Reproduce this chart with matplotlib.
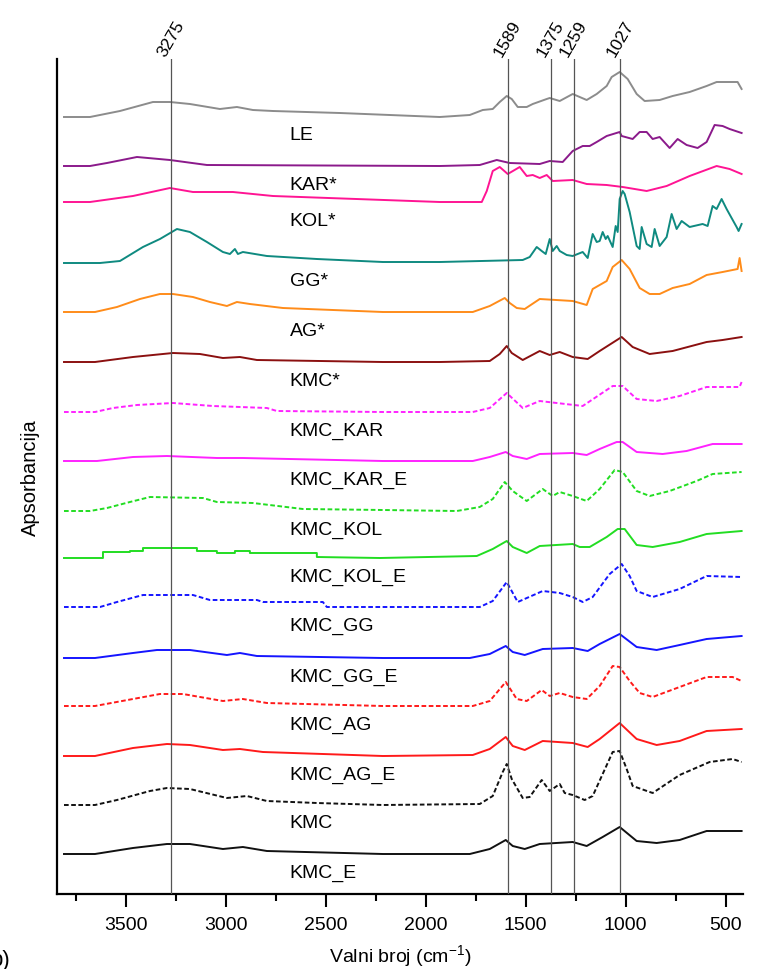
import matplotlib
matplotlib.use("Agg")
import matplotlib.pyplot as plt
from matplotlib.ticker import MultipleLocator

plt.rcParams['font.family'] = ['Liberation Sans', 'DejaVu Sans']
plt.rcParams['mathtext.fontset'] = 'custom'
plt.rcParams['mathtext.rm'] = 'Liberation Sans'

# spectra: wavenumber (cm-1) and relative absorbance (a.u.)
wn_le = [3810, 3680, 3530, 3365, 3280, 3180, 3030, 2945, 2865, 2765, 2430, 1930, 1780, 1715, 1665, 1630,
         1595, 1570, 1540, 1495, 1465, 1395, 1380, 1330, 1265, 1195, 1145, 1095, 1070, 1030, 990, 945,
         905, 830, 765, 680, 595, 545, 465, 440, 420]
a_le = [0, 0, 6, 15, 15, 13, 8, 10, 7, 6, 4, 0, 2, 7, 8, 15, 21, 18, 10, 10, 13, 18, 19, 16, 23, 17,
        23, 31, 40, 45, 38, 23, 16, 17, 21, 25, 31, 35, 35, 35, 28]

wn_kar = [3810, 3680, 3595, 3445, 3280, 3095, 1930, 1730, 1645, 1580, 1430, 1380, 1315, 1265, 1215, 1180,
          1145, 1095, 1030, 1020, 965, 930, 895, 865, 830, 780, 740, 695, 640, 595, 555, 515, 480, 420]
a_kar = [0, 0, 3, 9, 6, 1, 0, 1, 6, 3, 2, 5, 4, 15, 20, 20, 24, 30, 34, 30, 27, 34, 34, 27, 29, 18,
         27, 21, 18, 24, 41, 40, 37, 33]

wn_kol = [3810, 3680, 3465, 3280, 3165, 2965, 2765, 1930, 1720, 1695, 1665, 1630, 1590, 1530, 1495, 1465,
          1430, 1395, 1365, 1265, 1195, 1095, 1015, 895, 795, 680, 545, 480, 420]
a_kol = [0, 0, 6, 14, 10, 10, 6, 0, 0, 11, 31, 35, 28, 35, 26, 27, 24, 27, 21, 22, 18, 17, 15, 11, 16,
         26, 36, 33, 28]

wn_gg = [3810, 3630, 3530, 3415, 3330, 3245, 3180, 3095, 3015, 2980, 2955, 2940, 2915, 2795, 2545, 2215,
         1930, 1515, 1480, 1445, 1420, 1400, 1380, 1365, 1345, 1330, 1295, 1265, 1215, 1190, 1165, 1145,
         1130, 1115, 1100, 1090, 1065, 1050, 1040, 1030, 1015, 1005, 980, 945, 930, 920, 895, 870, 855,
         830, 795, 770, 745, 720, 680, 615, 590, 565, 545, 520, 495, 445, 435, 420]
a_gg = [0, 0, 2, 16, 24, 34, 31, 21, 11, 9, 14, 9, 11, 7, 4, 1, 1, 3, 6, 16, 12, 9, 24, 12, 17, 12, 8,
        7, 11, 5, 29, 21, 22, 31, 24, 27, 16, 37, 31, 64, 72, 69, 51, 17, 14, 36, 19, 16, 34, 17, 26,
        49, 34, 42, 36, 39, 37, 57, 54, 64, 54, 36, 32, 39]

wn_ag = [3810, 3655, 3545, 3430, 3330, 3265, 3165, 3080, 2995, 2945, 2880, 2715, 2215, 1930, 1765, 1680,
         1605, 1580, 1545, 1505, 1430, 1265, 1195, 1165, 1095, 1065, 1020, 980, 930, 880, 830, 765, 680,
         595, 515, 440, 430, 420]
a_ag = [0, 0, 5, 13, 18, 18, 15, 10, 6, 10, 8, 4, 0, 0, 0, 6, 14, 9, 4, 3, 13, 11, 7, 23, 31, 45, 52,
        43, 24, 18, 18, 24, 28, 37, 40, 43, 54, 41]

wn_kmcs = [3810, 3655, 3465, 3265, 3130, 3015, 2930, 2845, 2215, 1930, 1680, 1630, 1595, 1570, 1515, 1430,
           1380, 1330, 1265, 1190, 1130, 1020, 965, 880, 765, 595, 515, 420]
a_kmcs = [0, 0, 5, 9, 8, 4, 5, 2, 0, 0, 1, 8, 16, 9, 2, 11, 7, 10, 5, 3, 11, 25, 15, 8, 11, 20, 22, 25]

wn_kmc_kar = [3810, 3655, 3565, 3445, 3265, 3065, 2795, 2745, 2215, 1930, 1765, 1680, 1595, 1515, 1430,
              1345, 1215, 1065, 1015, 945, 845, 730, 595, 430, 420]
a_kmc_kar = [0, 0, 4, 7, 9, 6, 4, 1, 0, 0, 0, 4, 19, 4, 11, 9, 6, 26, 26, 13, 11, 16, 25, 25, 30]

wn_kmc_kar_e = [3810, 3645, 3465, 3295, 3045, 2915, 2215, 1765, 1680, 1600, 1565, 1495, 1430, 1265, 1195,
                1130, 1045, 1015, 945, 815, 695, 565, 420]
a_kmc_kar_e = [0, 0, 4, 5, 3, 3, 0, 0, 4, 9, 5, 2, 7, 8, 6, 12, 19, 19, 9, 7, 10, 17, 17]

wn_kmc_kol = [3810, 3680, 3595, 3480, 3380, 3115, 3045, 2865, 2615, 2215, 1845, 1730, 1665, 1605, 1565,
              1495, 1415, 1365, 1330, 1265, 1195, 1130, 1055, 1015, 945, 880, 780, 645, 565, 420]
a_kmc_kol = [0, 0, 3, 9, 14, 13, 9, 8, 2, 1, 0, 4, 12, 29, 20, 10, 22, 15, 19, 15, 10, 22, 41, 39, 20,
             15, 20, 30, 37, 39]

# this one is recorded in coarse steps on the high-wavenumber side
wn_kmc_kol_e = [3810, 3615, 3615, 3480, 3480, 3415, 3415, 3145, 3145, 3045, 3045, 2955, 2955, 2880, 2880,
                2545, 2545, 2230, 1745, 1665, 1595, 1565, 1495, 1430, 1265, 1230, 1180, 1095, 1040, 1005,
                945, 865, 730, 595, 420]
a_kmc_kol_e = [0, 0, 6, 6, 7, 7, 10, 10, 7, 7, 5, 5, 7, 7, 5, 5, 1, 0, 2, 9, 17, 11, 5, 12, 14, 11, 11,
               21, 29, 29, 13, 11, 16, 24, 27]

wn_kmc_gg = [3810, 3630, 3545, 3415, 3165, 3080, 2845, 2815, 2515, 2495, 2080, 1730, 1665, 1595, 1540,
             1415, 1330, 1265, 1215, 1165, 1080, 1020, 980, 945, 865, 730, 595, 420]
a_kmc_gg = [0, 0, 5, 12, 12, 7, 7, 5, 5, 0, 0, 0, 6, 25, 5, 16, 14, 10, 5, 10, 33, 43, 31, 16, 10, 18,
            31, 30]

wn_kmc_gg_e = [3810, 3655, 3465, 3345, 3180, 2995, 2930, 2845, 2215, 1780, 1680, 1600, 1565, 1505, 1415,
               1265, 1190, 1130, 1030, 945, 845, 730, 595, 420]
a_kmc_gg_e = [0, 0, 5, 8, 8, 3, 5, 2, 0, 0, 4, 12, 6, 3, 9, 10, 7, 14, 24, 11, 8, 13, 19, 22]

wn_kmc_ag = [3810, 3655, 3465, 3330, 3215, 3015, 2915, 2795, 2215, 1765, 1680, 1600, 1545, 1495, 1420,
             1380, 1330, 1265, 1195, 1130, 1065, 1030, 980, 930, 865, 730, 595, 465, 420]
a_kmc_ag = [0, 0, 7, 12, 12, 5, 7, 3, 0, 0, 5, 24, 7, 5, 16, 10, 13, 9, 7, 20, 40, 39, 25, 13, 9, 19,
            29, 29, 25]

wn_kmc_ag_e = [3810, 3655, 3465, 3295, 3180, 3015, 2930, 2815, 2215, 1765, 1680, 1600, 1565, 1505, 1415,
               1265, 1190, 1130, 1030, 945, 845, 730, 595, 420]
a_kmc_ag_e = [0, 0, 8, 12, 11, 6, 7, 4, 0, 1, 7, 19, 10, 6, 15, 13, 9, 17, 33, 17, 11, 15, 25, 27]

wn_kmc = [3810, 3655, 3545, 3380, 3295, 3180, 2995, 2895, 2795, 2545, 2215, 1730, 1665, 1615, 1595, 1570,
          1515, 1480, 1420, 1380, 1330, 1305, 1265, 1205, 1165, 1115, 1065, 1030, 995, 965, 865, 730,
          580, 465, 420]
a_kmc = [0, 0, 5, 14, 17, 16, 7, 9, 4, 2, 0, 1, 9, 33, 41, 26, 7, 8, 25, 14, 21, 12, 10, 5, 9, 31, 53,
         54, 36, 19, 12, 30, 43, 46, 43]

wn_kmc_e = [3810, 3655, 3465, 3295, 3180, 3015, 2915, 2795, 2215, 1780, 1680, 1600, 1565, 1505, 1430,
            1265, 1195, 1115, 1030, 945, 845, 730, 595, 420]
a_kmc_e = [0, 0, 6, 10, 10, 5, 7, 3, 0, 0, 5, 14, 8, 5, 10, 12, 8, 17, 27, 13, 11, 14, 23, 23]

names = ['LE', 'KAR*', 'KOL*', 'GG*', 'AG*', 'KMC*', 'KMC_KAR', 'KMC_KAR_E', 'KMC_KOL', 'KMC_KOL_E',
         'KMC_GG', 'KMC_GG_E', 'KMC_AG', 'KMC_AG_E', 'KMC', 'KMC_E']
offset = [777, 728, 692, 631, 582, 532, 482, 433, 383, 336, 287, 236, 188, 138, 89, 40]
peaks = [3275, 1589, 1375, 1259, 1027]

wns = [wn_le, wn_kar, wn_kol, wn_gg, wn_ag, wn_kmcs, wn_kmc_kar, wn_kmc_kar_e, wn_kmc_kol, wn_kmc_kol_e,
       wn_kmc_gg, wn_kmc_gg_e, wn_kmc_ag, wn_kmc_ag_e, wn_kmc, wn_kmc_e]
abss = [a_le, a_kar, a_kol, a_gg, a_ag, a_kmcs, a_kmc_kar, a_kmc_kar_e, a_kmc_kol, a_kmc_kol_e,
        a_kmc_gg, a_kmc_gg_e, a_kmc_ag, a_kmc_ag_e, a_kmc, a_kmc_e]

colors = ['#8c8c8c', '#8b1a8b', '#ff1493', '#0f8a80', '#ff8c1a', '#8b1010', '#ff22ff', '#ff22ff',
          '#22dd22', '#22dd22', '#1515ff', '#1515ff', '#ff1a1a', '#ff1a1a', '#111111', '#111111']
dashed = ['KMC_KAR', 'KMC_KOL', 'KMC_GG', 'KMC_AG', 'KMC']

fig = plt.figure(figsize=(7.64, 9.70), dpi=100)
ax = fig.add_axes([57 / 764, 75 / 970, 686 / 764, 835 / 970])

for i in range(len(names)):
    y = [v + offset[i] for v in abss[i]]
    ls = (0, (2.4, 1.3)) if names[i] in dashed else '-'
    ax.plot(wns[i], y, color=colors[i], lw=1.4, linestyle=ls, zorder=2)
    ax.text(2680, offset[i] - 18, names[i], fontsize=14, ha='left', va='center')

for p in peaks:
    ax.axvline(p, color='#555555', lw=0.9, zorder=3)
    ax.text(p, 836, str(p), rotation=60, ha='center', va='bottom', fontsize=12.5, clip_on=False)

ax.set_xlim(3845, 413)
ax.set_ylim(0, 835)
ax.spines['right'].set_visible(False)
ax.spines['top'].set_visible(False)
ax.spines['left'].set_linewidth(1.6)
ax.spines['bottom'].set_linewidth(1.6)
ax.set_yticks([])
ax.xaxis.set_major_locator(MultipleLocator(500))
ax.xaxis.set_minor_locator(MultipleLocator(250))
ax.tick_params(axis='x', which='major', direction='out', length=9.5, width=1.5, labelsize=14, pad=6)
ax.tick_params(axis='x', which='minor', direction='out', length=5, width=1.5)
ax.set_xlabel('Valni broj (cm$^{-1}$)', fontsize=14, labelpad=7)
ax.set_ylabel('Apsorbancija', fontsize=14.5, labelpad=12)

fig.text(-0.012, 0.004, 'b)', fontsize=16)

fig.savefig('out.png', dpi=100)
